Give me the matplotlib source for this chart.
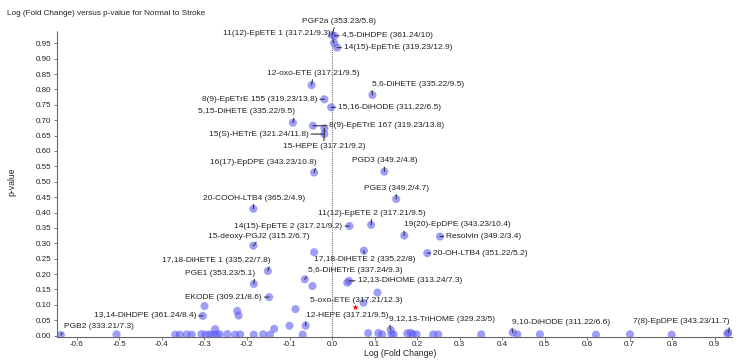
import matplotlib
matplotlib.use("Agg")
import matplotlib.pyplot as plt

plt.rcParams['font.family'] = ['Liberation Sans', 'DejaVu Sans']
plt.rcParams['axes.unicode_minus'] = False

# labelled compounds
names = ["PGF2a (353.23/5.8)", "11(12)-EpETE 1 (317.21/9.3)", "4,5-DiHDPE (361.24/10)",
         "14(15)-EpETrE (319.23/12.9)", "12-oxo-ETE (317.21/9.5)", "5,6-DiHETE (335.22/9.5)",
         "8(9)-EpETrE 155 (319.23/13.8)", "15,16-DiHODE (311.22/6.5)", "5,15-DiHETE (335.22/9.5)",
         "8(9)-EpETrE 167 (319.23/13.8)", "15(S)-HETrE (321.24/11.8)", "15-HEPE (317.21/9.2)",
         "16(17)-EpDPE (343.23/10.8)", "PGD3 (349.2/4.8)", "PGE3 (349.2/4.7)",
         "20-COOH-LTB4 (365.2/4.9)", "11(12)-EpETE 2 (317.21/9.5)", "14(15)-EpETE 2 (317.21/9.2)",
         "19(20)-EpDPE (343.23/10.4)", "Resolvin (349.2/3.4)", "20-OH-LTB4 (351.22/5.2)",
         "15-deoxy-PGJ2 (315.2/6.7)", "17,18-DiHETE 1 (335.22/7.8)", "PGE1 (353.23/5.1)",
         "EKODE (309.21/8.6)", "13,14-DiHDPE (361.24/8.4)", "PGB2 (333.21/7.3)",
         "17,18-DiHETE 2 (335.22/8)", "5,6-DiHETrE (337.24/9.3)", "12,13-DiHOME (313.24/7.3)",
         "5-oxo-ETE (317.21/12.3)", "12-HEPE (317.21/9.5)", "9,12,13-TriHOME (329.23/5)",
         "9,10-DiHODE (311.22/6.6)", "7(8)-EpDPE (343.23/11.7)"]
lfc = [0.000, 0.005, 0.006, 0.012, -0.048, 0.095, -0.018, -0.002, -0.092,
       -0.045, -0.018, -0.018, -0.042, 0.123, 0.151, -0.185, 0.092, 0.041,
       0.170, 0.254, 0.224, -0.185, -0.151, -0.184, -0.148, -0.304, -0.638,
       0.075, -0.064, 0.040, 0.054, -0.062, 0.138, 0.425, 0.933]
pval = [0.977, 0.951, 0.974, 0.936, 0.814, 0.782, 0.768, 0.742, 0.692,
        0.682, 0.655, 0.674, 0.530, 0.533, 0.444, 0.412, 0.360, 0.356,
        0.325, 0.322, 0.268, 0.292, 0.210, 0.168, 0.125, 0.064, 0.002,
        0.276, 0.183, 0.178, 0.092, 0.032, 0.019, 0.010, 0.010]
selected = "5-oxo-ETE (317.21/12.3)"

# unlabelled compounds
other_lfc = [-0.042, -0.046, -0.300, -0.223, -0.220, -0.086, -0.100, -0.136, -0.275,
             0.074, 0.107, 0.036,
             -0.507, -0.369, -0.358, -0.342, -0.330, -0.307, -0.297, -0.287, -0.280,
             -0.271, -0.264, -0.246, -0.228, -0.216, -0.184, -0.162, -0.146, -0.069,
             0.085, 0.109, 0.118, 0.140, 0.145, 0.177, 0.185, 0.190, 0.199, 0.238,
             0.250, 0.351, 0.436, 0.489, 0.621, 0.701, 0.799, 0.930]
other_p = [0.271, 0.161, 0.096, 0.080, 0.065, 0.086, 0.032, 0.022, 0.021,
           0.107, 0.140, 0.172,
           0.004, 0.003, 0.003, 0.004, 0.003, 0.005, 0.003, 0.004, 0.003,
           0.003, 0.004, 0.005, 0.003, 0.004, 0.003, 0.004, 0.003, 0.003,
           0.008, 0.008, 0.004, 0.004, 0.004, 0.007, 0.009, 0.004, 0.004, 0.004,
           0.004, 0.004, 0.004, 0.004, 0.003, 0.004, 0.003, 0.006]

xticks = [-0.6, -0.5, -0.4, -0.3, -0.2, -0.1, 0.0, 0.1, 0.2, 0.3, 0.4, 0.5, 0.6, 0.7, 0.8, 0.9]
yticks = [0.00, 0.05, 0.10, 0.15, 0.20, 0.25, 0.30, 0.35, 0.40, 0.45,
          0.50, 0.55, 0.60, 0.65, 0.70, 0.75, 0.80, 0.85, 0.90, 0.95]

# label placement: offset in pixels from the point, alignment, leader start
layout = [
    (-30.3, 13.5, 'left', (0.45, 0)),
    (-4, 9.7, 'right', (1, 0.5)),
    (7.2, 0.3, 'left', (0, 0.5)),
    (7, 0, 'left', (0, 0.5)),
    (1.3, 11.7, 'center', (0.5, 0)),
    (-0.6, 10.7, 'left', (0, 0)),
    (-7, 0, 'right', (1, 0.5)),
    (7, 0, 'left', (0, 0.5)),
    (1.6, 10.7, 'right', (1, 0)),
    (16.6, 0, 'left', (0, 0.5)),
    (-16, 0, 'right', (1, 0.5)),
    (-0.5, -18.7, 'center', (0.5, 1)),
    (2, 10.4, 'right', (1, 0)),
    (0.2, 10.7, 'center', (0.5, 0)),
    (0, 10.7, 'center', (0.5, 0)),
    (0.4, 10.7, 'center', (0.5, 0)),
    (0.7, 11.7, 'center', (0.5, 0)),
    (-7, 0, 'right', (1, 0.5)),
    (-0.3, 10.7, 'left', (0, 0)),
    (6.5, 0, 'left', (0, 0.5)),
    (6, 0, 'left', (0, 0.5)),
    (5, 9.7, 'center', (0.5, 0)),
    (2.3, 10.3, 'right', (1, 0)),
    (1, 10.7, 'right', (1, 0)),
    (-7.3, 0, 'right', (1, 0.5)),
    (-6.7, 0, 'right', (1, 0.5)),
    (3.3, 8.3, 'left', (0, 0)),
    (1, -9.3, 'center', (0.5, 1)),
    (3.3, 8.6, 'left', (0, 0)),
    (8.7, 0, 'left', (0, 0.5)),
    (0.8, 6.3, 'center', None),
    (0.3, 10.3, 'left', (0, 0)),
    (-1.4, 10.7, 'left', (0, 0)),
    (-1, 10.4, 'left', (0, 0)),
    (1, 11, 'right', (1, 0)),
]

fig = plt.figure(figsize=(7.5, 3.6), dpi=100)
ax = fig.add_axes([57/750, 1-336.5/360, 675/750, 305.5/360])

dot_col = (0.35, 0.35, 0.95)
ax.scatter(other_lfc, other_p, s=34, color=dot_col, alpha=0.58, edgecolors='none', zorder=3)
for n, x, y in zip(names, lfc, pval):
    if n == selected:
        ax.scatter([x], [y], s=22, marker='*', color='red', linewidths=0, zorder=4)
    else:
        ax.scatter([x], [y], s=34, color=dot_col, alpha=0.58, edgecolors='none', zorder=3)

for n, x, y, (dx, dy, ha, rel) in zip(names, lfc, pval, layout):
    if rel is None:
        ax.annotate(n, (x, y), xytext=(dx, dy), textcoords='offset pixels',
                    ha=ha, va='center', fontsize=6, color='#222222', zorder=5)
    else:
        ax.annotate(n, (x, y), xytext=(dx, dy), textcoords='offset pixels',
                    ha=ha, va='center', fontsize=6, color='#222222', zorder=5,
                    arrowprops=dict(arrowstyle='-', color='#333333', lw=0.8,
                                    shrinkA=0, shrinkB=0, relpos=rel))

ax.axvline(0, color='#777777', lw=0.8, ls=(0, (1, 1)), zorder=1)

ax.set_xlim(-0.647, 0.941)
ax.set_ylim(-0.003, 0.99)
ax.set_xticks(xticks)
ax.set_xticklabels([f"{t:.1f}" for t in xticks])
ax.set_yticks(yticks)
ax.set_yticklabels([f"{t:.2f}" for t in yticks])
ax.tick_params(length=2.5, width=0.6, color='#666666', labelsize=5.8, labelcolor='#222222')
ax.tick_params(axis='x', pad=0.8)
ax.tick_params(axis='y', pad=1.5)

for s in ['top', 'right']:
    ax.spines[s].set_visible(False)
ax.spines['left'].set_color('#666666')
ax.spines['left'].set_linestyle((0, (1, 1)))
ax.spines['left'].set_linewidth(0.8)
ax.spines['bottom'].set_color('#666666')
ax.spines['bottom'].set_linewidth(0.8)

fig.text(7/750, 1-13.3/360, "Log (Fold Change) versus p-value for Normal to Stroke",
         fontsize=5.9, va='center', ha='left', color='#222222')
fig.text(12/750, 1-182/360, "p-value", rotation=90, fontsize=6.2, va='center', ha='center', color='#222222')
fig.text(400/750, 1-353.5/360, "Log (Fold Change)", fontsize=6.2, va='center', ha='center', color='#222222')

fig.savefig("out.png", dpi=100)
